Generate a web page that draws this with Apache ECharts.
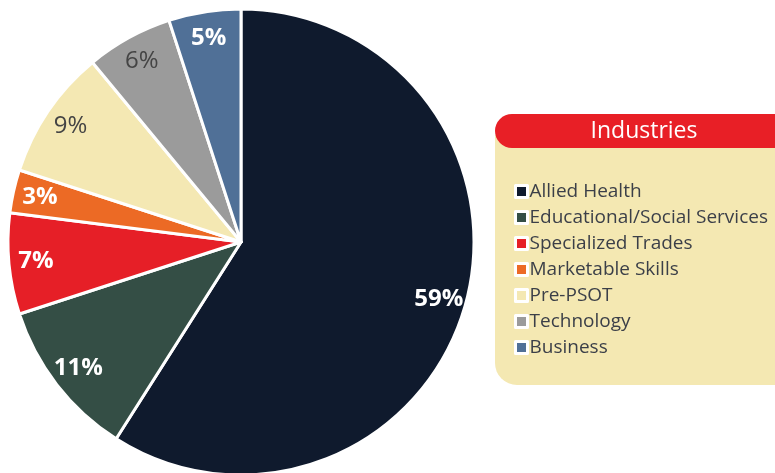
<!DOCTYPE html>
<html>
<head>
<meta charset="utf-8">
<script src="https://cdn.jsdelivr.net/npm/echarts@6/dist/echarts.min.js"></script>
<style>
  html, body { margin: 0; padding: 0; background: #fff; }
  #chart { width: 775px; height: 473px; }
</style>
</head>
<body>
<div id="chart"></div>
<script>
// 行业分布数据
var categories = ['Allied Health', 'Educational/Social Services', 'Specialized Trades',
    'Marketable Skills', 'Pre-PSOT', 'Technology', 'Business'];
var values = [59, 11, 7, 3, 9, 6, 5];
var colors = ['#0f1a2d', '#344e45', '#e61f27', '#ec6a25', '#f4e8b3', '#9b9b9b', '#507097'];
var labelColors = ['#fff', '#fff', '#fff', '#fff', '#444', '#444', '#fff'];
var labelWeights = ['bold', 'bold', 'bold', 'bold', 'normal', 'normal', 'bold'];

var font = '"Open Sans", "Noto Sans", sans-serif';

var pieData = categories.map(function(name, i) {
    return { name: name, value: values[i], itemStyle: { color: colors[i] } };
});

// 只显示标签的透明圆环
var labelData = categories.map(function(name, i) {
    return {
        name: name,
        value: values[i],
        label: { color: labelColors[i], fontWeight: labelWeights[i] }
    };
});

var myEchart = echarts.init(document.getElementById('chart'));

var option = {
    backgroundColor: '#fff',
    animation: false,
    title: {
        text: 'Industries',
        left: 639,
        top: 115,
        textAlign: 'center',
        textStyle: { color: '#fff', fontFamily: font, fontSize: 23, fontWeight: 'normal' }
    },
    graphic: [
        {
            type: 'rect',
            shape: { x: 495, y: 135, width: 300, height: 250, r: [0, 0, 0, 22] },
            style: { fill: '#f4e8b2' },
            z: -1
        },
        {
            type: 'rect',
            shape: { x: 495, y: 114, width: 300, height: 34, r: [17, 0, 0, 17] },
            style: { fill: '#e81f26' },
            z: 0
        }
    ],
    legend: {
        orient: 'vertical',
        left: 509,
        top: 177,
        icon: 'rect',
        itemWidth: 12,
        itemHeight: 12,
        itemGap: 7,
        itemStyle: { borderColor: '#fff', borderWidth: 3 },
        textStyle: { color: '#3b3f48', fontFamily: font, fontSize: 19, padding: [0, 0, 0, -3] },
        data: categories
    },
    series: [
        {
            name: 'Industries',
            type: 'pie',
            center: [241, 242],
            radius: 233,
            startAngle: 90,
            clockwise: true,
            label: { show: false },
            labelLine: { show: false },
            itemStyle: { borderColor: '#fff', borderWidth: 3 },
            emphasis: { disabled: true },
            data: pieData
        },
        {
            name: 'labels',
            type: 'pie',
            center: [241, 242],
            radius: [172, 234],
            startAngle: 90,
            clockwise: true,
            silent: true,
            legendHoverLink: false,
            itemStyle: { color: 'rgba(0,0,0,0)' },
            label: {
                show: true,
                position: 'inside',
                formatter: '{c}%',
                fontFamily: font,
                fontSize: 24
            },
            labelLine: { show: false },
            emphasis: { disabled: true },
            data: labelData
        }
    ]
};

myEchart.setOption(option);
</script>
</body>
</html>
